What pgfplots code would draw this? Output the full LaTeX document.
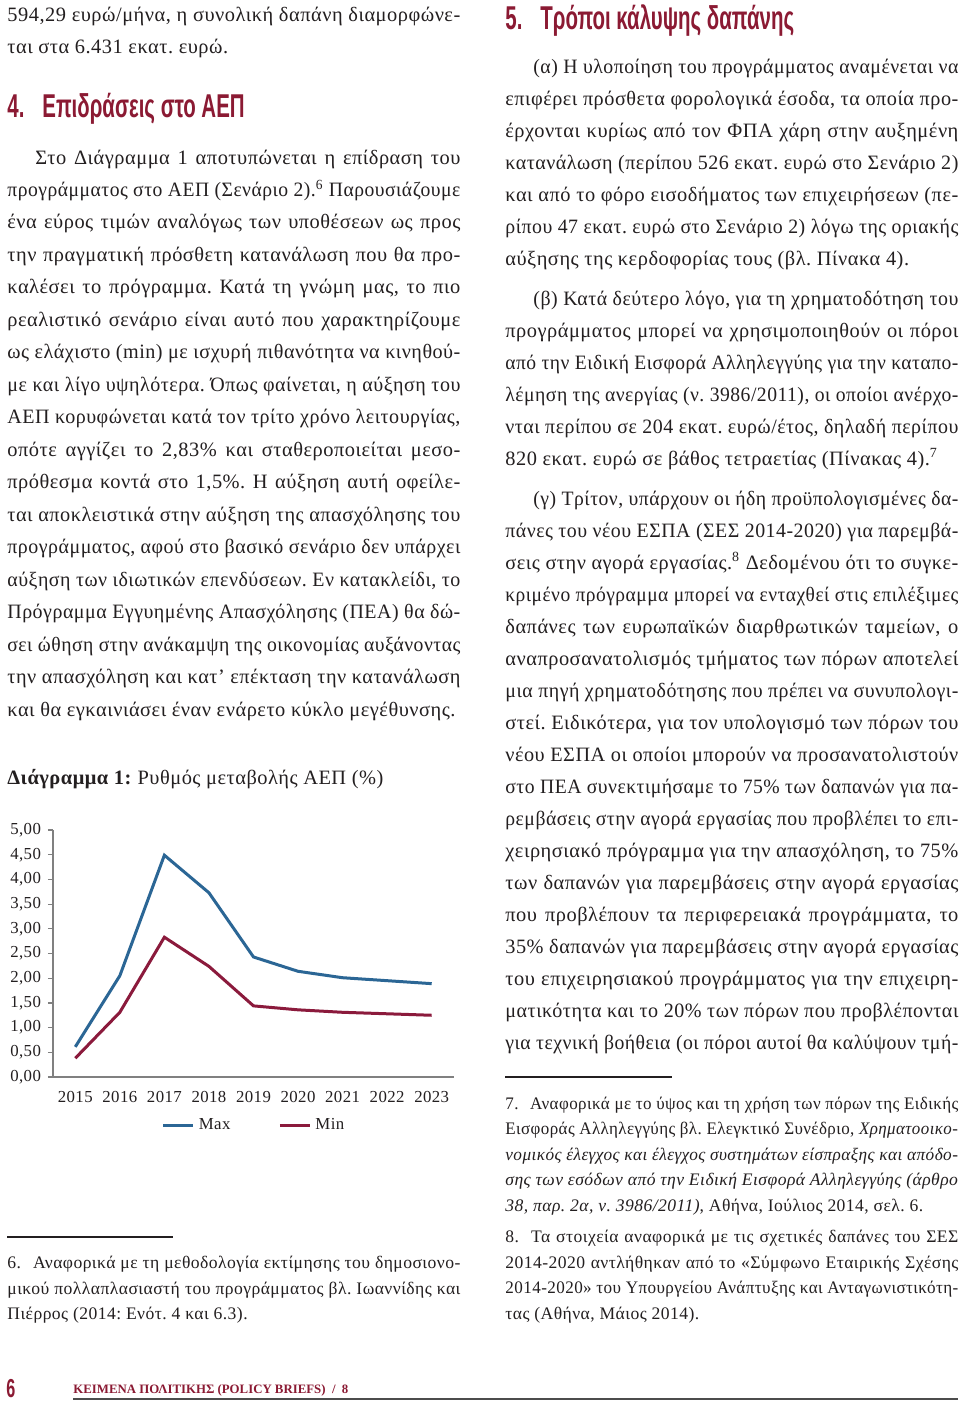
\documentclass[border=0pt]{standalone}
\usepackage{pgfplots}
\pgfplotsset{compat=1.18}
\usepackage{fontspec}
\setmainfont{Liberation Serif}[LetterSpace=2.5]
\newfontfamily\headfont[FakeStretch=0.62]{Liberation Sans Bold}
\newfontfamily\plainfont{Liberation Serif}
\definecolor{txt}{HTML}{231F20}
\definecolor{hred}{HTML}{8B1A33}
\definecolor{cblue}{HTML}{2B6695}
\definecolor{cred}{HTML}{8B1A3C}
\newsavebox\jlbox
\newcommand\JLb[2]{\sbox\jlbox{#2}\ifdim\wd\jlbox>#1pt\relax\resizebox{#1pt}{\ht\jlbox}{\usebox\jlbox}\else\makebox[#1pt][s]{#2}\fi}
\newcommand\JL[4]{\node[anchor=base west,inner sep=0pt] at (#1,#2) {\JLb{#3}{#4}};}
\newcommand\NL[3]{\node[anchor=base west,inner sep=0pt] at (#1,#2) {#3};}
\newcommand\fnsup[1]{\textsuperscript{\scriptsize #1}}
\frenchspacing
\begin{document}
\begin{tikzpicture}
\begin{scope}[x=0.5pt,y=-0.5pt]
\path[use as bounding box,fill=white] (0,0) rectangle (960,1404);
\begin{scope}[txt]
\fontsize{10.2pt}{12pt}\selectfont
% left column
\JL{7}{21}{226.5}{594,29 ευρώ/μήνα, η συνολική δαπάνη διαμορφώνε-}
\NL{7}{53}{ται στα 6.431 εκατ. ευρώ.}
\JL{35}{164}{212.5}{Στο Διάγραμμα 1 αποτυπώνεται η επίδραση του}
\JL{7}{196.5}{226.5}{προγράμματος στο ΑΕΠ (Σενάριο 2).\fnsup{6} Παρουσιάζουμε}
\JL{7}{228.9}{226.5}{ένα εύρος τιμών αναλόγως των υποθέσεων ως προς}
\JL{7}{261.4}{226.5}{την πραγματική πρόσθετη κατανάλωση που θα προ-}
\JL{7}{293.9}{226.5}{καλέσει το πρόγραμμα. Κατά τη γνώμη μας, το πιο}
\JL{7}{326.4}{226.5}{ρεαλιστικό σενάριο είναι αυτό που χαρακτηρίζουμε}
\JL{7}{358.8}{226.5}{ως ελάχιστο (min) με ισχυρή πιθανότητα να κινηθού-}
\JL{7}{391.3}{226.5}{με και λίγο υψηλότερα. Όπως φαίνεται, η αύξηση του}
\JL{7}{423.8}{226.5}{ΑΕΠ κορυφώνεται κατά τον τρίτο χρόνο λειτουργίας,}
\JL{7}{456.2}{226.5}{οπότε αγγίζει το 2,83\% και σταθεροποιείται μεσο-}
\JL{7}{488.7}{226.5}{πρόθεσμα κοντά στο 1,5\%. Η αύξηση αυτή οφείλε-}
\JL{7}{521.2}{226.5}{ται αποκλειστικά στην αύξηση της απασχόλησης του}
\JL{7}{553.6}{226.5}{προγράμματος, αφού στο βασικό σενάριο δεν υπάρχει}
\JL{7}{586.1}{226.5}{αύξηση των ιδιωτικών επενδύσεων. Εν κατακλείδι, το}
\JL{7}{618.6}{226.5}{Πρόγραμμα Εγγυημένης Απασχόλησης (ΠΕΑ) θα δώ-}
\JL{7}{651.1}{226.5}{σει ώθηση στην ανάκαμψη της οικονομίας αυξάνοντας}
\JL{7}{683.5}{226.5}{την απασχόληση και κατ’ επέκταση την κατανάλωση}
\NL{7}{716}{και θα εγκαινιάσει έναν ενάρετο κύκλο μεγέθυνσης.}
\NL{7}{784}{\textbf{Διάγραμμα 1:} Ρυθμός μεταβολής ΑΕΠ (\%)}
% right column
\JL{533}{73}{212.5}{(α) Η υλοποίηση του προγράμματος αναμένεται να}
\JL{505}{105}{226.5}{επιφέρει πρόσθετα φορολογικά έσοδα, τα οποία προ-}
\JL{505}{137}{226.5}{έρχονται κυρίως από τον ΦΠΑ χάρη στην αυξημένη}
\JL{505}{169}{226.5}{κατανάλωση (περίπου 526 εκατ. ευρώ στο Σενάριο 2)}
\JL{505}{201}{226.5}{και από το φόρο εισοδήματος των επιχειρήσεων (πε-}
\JL{505}{233}{226.5}{ρίπου 47 εκατ. ευρώ στο Σενάριο 2) λόγω της οριακής}
\NL{505}{265}{αύξησης της κερδοφορίας τους (βλ. Πίνακα 4).}
\JL{533}{305}{212.5}{(β) Κατά δεύτερο λόγο, για τη χρηματοδότηση του}
\JL{505}{337}{226.5}{προγράμματος μπορεί να χρησιμοποιηθούν οι πόροι}
\JL{505}{369}{226.5}{από την Ειδική Εισφορά Αλληλεγγύης για την καταπο-}
\JL{505}{401}{226.5}{λέμηση της ανεργίας (ν. 3986/2011), οι οποίοι ανέρχο-}
\JL{505}{433}{226.5}{νται περίπου σε 204 εκατ. ευρώ/έτος, δηλαδή περίπου}
\NL{505}{465}{820 εκατ. ευρώ σε βάθος τετραετίας (Πίνακας 4).\fnsup{7}}
\JL{533}{505}{212.5}{(γ) Τρίτον, υπάρχουν οι ήδη προϋπολογισμένες δα-}
\JL{505}{537}{226.5}{πάνες του νέου ΕΣΠΑ (ΣΕΣ 2014-2020) για παρεμβά-}
\JL{505}{569}{226.5}{σεις στην αγορά εργασίας.\fnsup{8} Δεδομένου ότι το συγκε-}
\JL{505}{601}{226.5}{κριμένο πρόγραμμα μπορεί να ενταχθεί στις επιλέξιμες}
\JL{505}{633}{226.5}{δαπάνες των ευρωπαϊκών διαρθρωτικών ταμείων, ο}
\JL{505}{665}{226.5}{αναπροσανατολισμός τμήματος των πόρων αποτελεί}
\JL{505}{697}{226.5}{μια πηγή χρηματοδότησης που πρέπει να συνυπολογι-}
\JL{505}{729}{226.5}{στεί. Ειδικότερα, για τον υπολογισμό των πόρων του}
\JL{505}{761}{226.5}{νέου ΕΣΠΑ οι οποίοι μπορούν να προσανατολιστούν}
\JL{505}{793}{226.5}{στο ΠΕΑ συνεκτιμήσαμε το 75\% των δαπανών για πα-}
\JL{505}{825}{226.5}{ρεμβάσεις στην αγορά εργασίας που προβλέπει το επι-}
\JL{505}{857}{226.5}{χειρησιακό πρόγραμμα για την απασχόληση, το 75\%}
\JL{505}{889}{226.5}{των δαπανών για παρεμβάσεις στην αγορά εργασίας}
\JL{505}{921}{226.5}{που προβλέπουν τα περιφερειακά προγράμματα, το}
\JL{505}{953}{226.5}{35\% δαπανών για παρεμβάσεις στην αγορά εργασίας}
\JL{505}{985}{226.5}{του επιχειρησιακού προγράμματος για την επιχειρη-}
\JL{505}{1017}{226.5}{ματικότητα και το 20\% των πόρων που προβλέπονται}
\JL{505}{1049}{226.5}{για τεχνική βοήθεια (οι πόροι αυτοί θα καλύψουν τμή-}
% footnotes
\fontsize{8.8pt}{10pt}\selectfont
\JL{7}{1268}{226.5}{6.\hspace{6pt}Αναφορικά με τη μεθοδολογία εκτίμησης του δημοσιονο-}
\JL{7}{1294}{226.5}{μικού πολλαπλασιαστή του προγράμματος βλ. Ιωαννίδης και}
\NL{7}{1319}{Πιέρρος (2014: Ενότ. 4 και 6.3).}
\JL{505}{1109}{226.5}{7.\hspace{6pt}Αναφορικά με το ύψος και τη χρήση των πόρων της Ειδικής}
\JL{505}{1134}{226.5}{Εισφοράς Αλληλεγγύης βλ. Ελεγκτικό Συνέδριο, \textit{Χρηματοοικο-}}
\JL{505}{1160}{226.5}{\textit{νομικός έλεγχος και έλεγχος συστημάτων είσπραξης και απόδο-}}
\JL{505}{1185}{226.5}{\textit{σης των εσόδων από την Ειδική Εισφορά Αλληλεγγύης (άρθρο}}
\NL{505}{1211}{\textit{38, παρ. 2α, ν. 3986/2011)}, Αθήνα, Ιούλιος 2014, σελ. 6.}
\JL{505}{1242}{226.5}{8.\hspace{6pt}Τα στοιχεία αναφορικά με τις σχετικές δαπάνες του ΣΕΣ}
\JL{505}{1268}{226.5}{2014-2020 αντλήθηκαν από το «Σύμφωνο Εταιρικής Σχέσης}
\JL{505}{1293}{226.5}{2014-2020» του Υπουργείου Ανάπτυξης και Ανταγωνιστικότη-}
\NL{505}{1319}{τας (Αθήνα, Μάιος 2014).}
\end{scope}
% headings
\node[anchor=base west,inner sep=0pt,text=hred] at (7,117) {\headfont\fontsize{16.5pt}{17pt}\selectfont 4.};
\node[anchor=base west,inner sep=0pt,text=hred] at (42,117) {\headfont\fontsize{16.5pt}{17pt}\selectfont Επιδράσεις στο ΑΕΠ};
\node[anchor=base west,inner sep=0pt,text=hred] at (505,29) {\headfont\fontsize{16.5pt}{17pt}\selectfont 5.};
\node[anchor=base west,inner sep=0pt,text=hred] at (540,29) {\headfont\fontsize{16.5pt}{17pt}\selectfont Τρόποι κάλυψης δαπάνης};
% footnote rules
\draw[txt,line width=0.75pt] (7,1237) -- (173,1237);
\draw[txt,line width=0.75pt] (505,1077) -- (672,1077);
% footer
\node[anchor=base west,inner sep=0pt,text=hred] at (6,1397) {\headfont\fontsize{13pt}{14pt}\selectfont 6};
\node[anchor=base west,inner sep=0pt,text=hred] at (73,1393) {\resizebox{137.5pt}{!}{\plainfont\bfseries\fontsize{8pt}{9pt}\selectfont ΚΕΙΜΕΝΑ ΠΟΛΙΤΙΚΗΣ (POLICY BRIEFS)\ \ /\ \ 8}};
\draw[black!70,line width=1pt] (73,1399) -- (958,1399);
\end{scope}
\begin{axis}[
  at={(26.5pt,-538.5pt)}, anchor=south west,
  scale only axis, width=200.5pt, height=123.5pt,
  xmin=-0.5, xmax=8.5, ymin=0, ymax=5,
  axis lines*=left,
  axis line style={black!50, line width=0.6pt},
  tick align=outside,
  ytick={0,0.5,...,5},
  yticklabels={{0,00},{0,50},{1,00},{1,50},{2,00},{2,50},{3,00},{3,50},{4,00},{4,50},{5,00}},
  major tick length=2.5pt,
  ytick style={black!50, line width=0.6pt},
  xtick={0,...,8},
  xticklabels={2015,2016,2017,2018,2019,2020,2021,2022,2023},
  xtick style={draw=none},
  minor xtick={-0.5,0.5,...,8.5},
  minor tick length=3pt,
  minor x tick style={black!50, line width=0.6pt},
  tick label style={font=\fontsize{8.4pt}{9pt}\selectfont, text=txt},
  xticklabel style={yshift=-1pt},
  clip=false,
  legend columns=2,
  legend style={at={(0.504,-0.195)}, anchor=center, draw=none, fill=none,
    font=\fontsize{8.4pt}{9pt}\selectfont, text=txt,
    /tikz/every even column/.append style={column sep=22pt}},
  legend image code/.code={\draw[#1] (0pt,0pt) -- (15pt,0pt);},
]
\addplot[cblue, line width=1.5pt] coordinates {(0,0.61) (1,2.05) (2,4.49) (3,3.73) (4,2.43) (5,2.14) (6,2.01) (7,1.95) (8,1.89)};
\addlegendentry{Max}
\addplot[cred, line width=1.5pt] coordinates {(0,0.38) (1,1.31) (2,2.83) (3,2.24) (4,1.44) (5,1.36) (6,1.31) (7,1.28) (8,1.25)};
\addlegendentry{Min}
\end{axis}
\end{tikzpicture}
\end{document}
